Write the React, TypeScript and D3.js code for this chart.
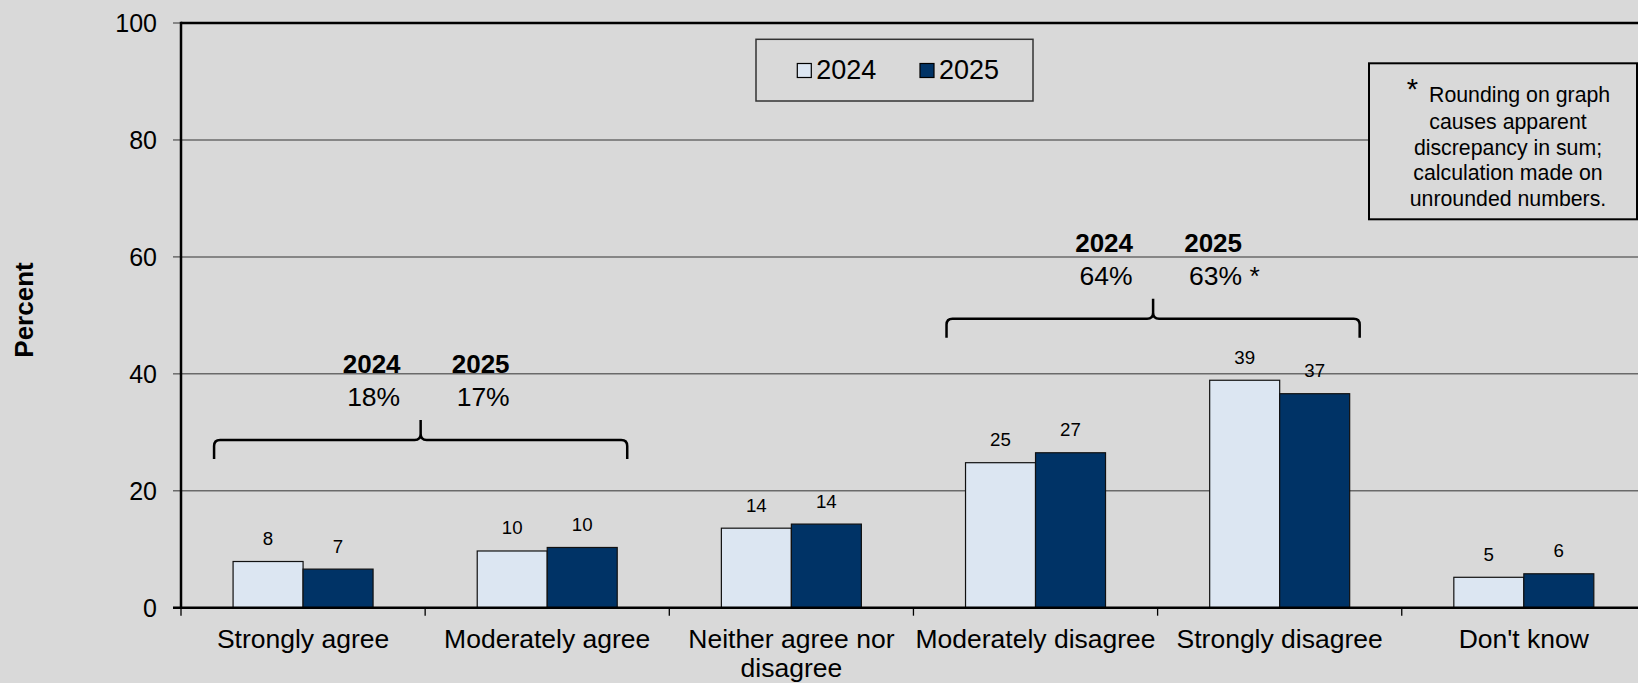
import React, { useMemo } from "react";
import * as d3 from "d3";

const categories = [
  "Strongly agree",
  "Moderately agree",
  "Neither agree nor disagree",
  "Moderately disagree",
  "Strongly disagree",
  "Don't know",
];
const seriesNames = ["2024", "2025"];
const values2024 = [7.9, 9.7, 13.6, 24.8, 38.9, 5.2];
const values2025 = [6.6, 10.3, 14.3, 26.5, 36.6, 5.8];
const yTicks = [0, 20, 40, 60, 80, 100];

const brackets = [
  { from: 0, to: 1, level: 28.7, labels: ["2024", "2025"], totals: ["18%", "17%"] },
  { from: 3, to: 4, level: 49.4, labels: ["2024", "2025"], totals: ["64%", "63% *"] },
];
const footnoteLines = [
  "causes apparent",
  "discrepancy in sum;",
  "calculation made on",
  "unrounded numbers.",
];

const W = 1638;
const H = 683;
const BG = "#d9d9d9";
const FILL = ["#dce6f2", "#003366"];
const FONT = "'Liberation Sans', Arial, Helvetica, sans-serif";

const margin = { left: 181, top: 23 };
const bandW = 244.15;
const zeroY = 607.7;

function wrapLabel(text: string, maxW: number, font: string): string[] {
  const canvas = document.createElement("canvas");
  const ctx = canvas.getContext("2d");
  if (!ctx) return [text];
  ctx.font = font;
  const words = text.split(" ");
  const lines: string[] = [];
  let cur = "";
  for (const w of words) {
    const t = cur ? cur + " " + w : w;
    if (ctx.measureText(t).width > maxW && cur) {
      lines.push(cur);
      cur = w;
    } else cur = t;
  }
  if (cur) lines.push(cur);
  return lines;
}

export default function App() {
  const x0 = d3
    .scaleBand<string>()
    .domain(categories)
    .range([margin.left, margin.left + bandW * categories.length])
    .padding(0);
  const bw = x0.bandwidth();
  const barW = bw * 0.2867;
  const x1 = d3
    .scaleBand<string>()
    .domain(seriesNames)
    .range([bw / 2 - barW, bw / 2 + barW])
    .padding(0);
  const y = d3.scaleLinear().domain([0, 100]).range([zeroY, margin.top]);

  const series = [values2024, values2025];

  const wrapped = useMemo(
    () => categories.map((c) => wrapLabel(c, bw, `26.5px ${FONT}`)),
    [bw]
  );

  const catFont = 26.5;

  return (
    <div style={{ position: "fixed", left: 0, top: 0, width: W, height: H }}>
      <svg width={W} height={H} style={{ display: "block", fontFamily: FONT }}>
        <rect x={0} y={0} width={W} height={H} fill={BG} />

        {/* gridlines */}
        {yTicks
          .filter((t) => t > 0 && t < 100)
          .map((t) => (
            <line
              key={"g" + t}
              x1={margin.left}
              x2={W}
              y1={y(t)}
              y2={y(t)}
              stroke="#6a6a6a"
              strokeWidth={1.5}
            />
          ))}
        {/* y tick marks and labels */}
        {yTicks.map((t) => (
          <g key={"yt" + t}>
            <line x1={173} x2={margin.left} y1={y(t)} y2={y(t)} stroke="#6a6a6a" strokeWidth={1.5} />
            <text x={157} y={y(t) + 9} textAnchor="end" fontSize={25} fill="#000">
              {t}
            </text>
          </g>
        ))}
        {/* top border */}
        <line x1={margin.left} x2={W} y1={y(100)} y2={y(100)} stroke="#000" strokeWidth={2.5} />

        {/* bars */}
        {categories.map((c, i) => (
          <g key={c} transform={`translate(${x0(c)},0)`}>
            {seriesNames.map((s, j) => {
              const v = series[j][i];
              const bx = x1(s)!;
              return (
                <g key={s}>
                  <rect
                    x={bx}
                    y={y(v)}
                    width={x1.bandwidth()}
                    height={y(0) - y(v)}
                    fill={FILL[j]}
                    stroke="#111"
                    strokeWidth={1.2}
                  />
                  <text
                    x={bx + x1.bandwidth() / 2}
                    y={y(v) - 16.5}
                    textAnchor="middle"
                    fontSize={18.7}
                    fill="#000"
                  >
                    {Math.round(v)}
                  </text>
                </g>
              );
            })}
          </g>
        ))}

        {/* axes */}
        <line x1={margin.left} x2={margin.left} y1={y(100) - 1.2} y2={zeroY} stroke="#000" strokeWidth={2.5} />
        <line x1={margin.left - 8} x2={W} y1={zeroY} y2={zeroY} stroke="#000" strokeWidth={2.5} />
        {d3.range(categories.length + 1).map((k) => {
          const xx = margin.left + k * bw;
          return <line key={"xt" + k} x1={xx} x2={xx} y1={zeroY} y2={zeroY + 8} stroke="#000" strokeWidth={1.3} />;
        })}
        {categories.map((c, i) => (
          <text key={"cl" + c} textAnchor="middle" fontSize={catFont} fill="#000">
            {wrapped[i].map((ln, k) => (
              <tspan key={k} x={x0(c)! + bw / 2} y={647.5 + k * 29.4}>
                {ln}
              </tspan>
            ))}
          </text>
        ))}

        {/* y axis title */}
        <text
          transform={`translate(33,310) rotate(-90)`}
          textAnchor="middle"
          fontSize={26}
          fontWeight="bold"
          fill="#000"
        >
          Percent
        </text>

        {/* brackets */}
        {brackets.map((b, bi) => {
          const left = x0(categories[b.from])! + x1(seriesNames[0])! - 19;
          const right = x0(categories[b.to])! + x1(seriesNames[1])! + x1.bandwidth() + 10;
          const mid = (left + right) / 2;
          const hy = y(b.level);
          const r = 6;
          const path = d3.path();
          path.moveTo(left, hy + 19);
          path.lineTo(left, hy + r);
          path.quadraticCurveTo(left, hy, left + r, hy);
          path.lineTo(mid - r, hy);
          path.quadraticCurveTo(mid, hy, mid, hy - r);
          path.lineTo(mid, hy - 20);
          path.moveTo(mid, hy - r);
          path.quadraticCurveTo(mid, hy, mid + r, hy);
          path.lineTo(right - r, hy);
          path.quadraticCurveTo(right, hy, right, hy + r);
          path.lineTo(right, hy + 19);
          return (
            <g key={"br" + bi}>
              <path d={path.toString()} fill="none" stroke="#000" strokeWidth={2.5} />
              <text x={mid - 49} y={hy - 66.5} textAnchor="middle" fontSize={26} fontWeight="bold">
                {b.labels[0]}
              </text>
              <text x={mid + 60} y={hy - 66.5} textAnchor="middle" fontSize={26} fontWeight="bold">
                {b.labels[1]}
              </text>
              <text x={mid - 47} y={hy - 33.5} textAnchor="middle" fontSize={26.5}>
                {b.totals[0]}
              </text>
              <text x={mid + 36} y={hy - 33.5} textAnchor="start" fontSize={26.5}>
                {b.totals[1]}
              </text>
            </g>
          );
        })}

        {/* legend */}
        <rect x={756} y={39.3} width={277} height={61.7} fill={BG} stroke="#333" strokeWidth={1.5} />
        {seriesNames.map((s, j) => {
          const sx = j === 0 ? 797.3 : 920;
          return (
            <g key={"lg" + s}>
              <rect x={sx} y={63.5} width={14} height={14} fill={FILL[j]} stroke="#000" strokeWidth={1.2} />
              <text x={sx + 19} y={79.3} fontSize={27} fill="#000">
                {s}
              </text>
            </g>
          );
        })}

        {/* footnote box */}
        <rect x={1369} y={63.3} width={268} height={156} fill={BG} stroke="#000" strokeWidth={2} />
        <text x={1412.5} y={99} textAnchor="middle" fontSize={29} fill="#000">
          *
        </text>
        <text x={1429} y={102.3} textAnchor="start" fontSize={21.3} fill="#000">
          Rounding on graph
        </text>
        {footnoteLines.map((ln, k) => (
          <text key={"fn" + k} x={1508} y={129.3 + k * 25.5} textAnchor="middle" fontSize={21.3} fill="#000">
            {ln}
          </text>
        ))}
      </svg>
    </div>
  );
}
